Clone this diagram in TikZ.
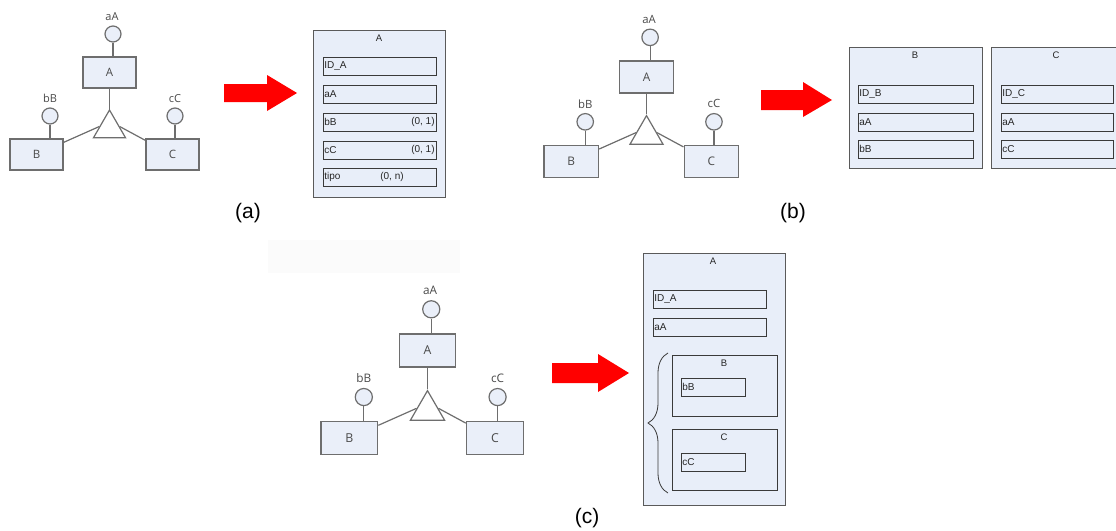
\documentclass[tikz,border=0pt]{standalone}
\usepackage{fontspec}
\setmainfont{Liberation Sans}
\newfontfamily\erfont{Open Sans}
\usetikzlibrary{shapes.geometric,calc,decorations.pathreplacing}

\definecolor{entfill}{HTML}{EAEFF9}
\definecolor{entline}{HTML}{6E6E6E}
\definecolor{erink}{HTML}{4A4A4A}
\definecolor{tblfill}{HTML}{E8EEF9}
\definecolor{tblline}{HTML}{5A5A5A}
\definecolor{fldline}{HTML}{3A3A3A}
\definecolor{arrowred}{HTML}{FF0000}

\tikzset{
  ent/.style={draw=entline, fill=entfill, line width=1.2pt, minimum width=53pt,
    minimum height=31pt, inner sep=0pt, font=\erfont\fontsize{11.5}{13}\selectfont, text=erink},
  attr/.style={circle, draw=entline, fill=entfill, line width=1.2pt, minimum size=16pt, inner sep=0pt},
  erlbl/.style={font=\erfont\fontsize{11}{13}\selectfont, text=erink, inner sep=0pt},
  isa/.style={regular polygon, regular polygon sides=3, draw=entline, fill=white,
    line width=1.2pt, minimum size=37pt, inner sep=0pt},
  erlink/.style={draw=entline, line width=1.2pt},
  tbl/.style={draw=tblline, fill=tblfill, line width=0.9pt, anchor=north west, inner sep=0pt},
  tbltitle/.style={font=\fontsize{9.5}{11}\selectfont, text=black!85, inner sep=0pt},
  fld/.style={draw=fldline, fill=tblfill, line width=0.8pt, minimum height=18pt, inner sep=1pt,
    align=left, anchor=north west, font=\fontsize{10}{12}\selectfont, text=black!85},
  card/.style={font=\fontsize{10}{12}\selectfont, text=black!85, inner sep=2pt, anchor=east},
  caption/.style={font=\fontsize{21}{25}\selectfont, inner sep=0pt},
  bigarrow/.style={fill=arrowred}
}

% ER diagram: entity A with specialisations B and C, each with one attribute
\newcommand{\erdiagram}[4]{%
  \begin{scope}[shift={(#2,#3)}, scale=#4, transform shape]
    \node[ent] (#1A) at (0,0) {A};
    \node[ent] (#1B) at (-73,82) {B};
    \node[ent] (#1C) at (63,82) {C};
    \node[attr] (#1aA) at (3.5,-38.5) {};
    \node[attr] (#1bB) at (-59.5,43.5) {};
    \node[attr] (#1cC) at (65.5,43.5) {};
    \node[erlbl] (#1laA) at (2.5,-56) {aA};
    \node[erlbl] (#1lbB) at (-59.5,26) {bB};
    \node[erlbl] (#1lcC) at (65.5,26) {cC};
    \node[isa] (#1T) at (0,56) {};
    \draw[erlink] (#1aA.south) -- (#1aA.south |- #1A.north);
    \draw[erlink] (#1bB.south) -- (#1bB.south |- #1B.north);
    \draw[erlink] (#1cC.south) -- (#1cC.south |- #1C.north);
    \draw[erlink] (#1A.south) -- (#1T.corner 1);
    \draw[erlink] ($(#1B.north east)+(0,4)$) -- ($(#1T.corner 1)!0.6!(#1T.corner 2)$);
    \draw[erlink] ($(#1C.north west)+(0,2)$) -- ($(#1T.corner 1)!0.6!(#1T.corner 3)$);
  \end{scope}}

\begin{document}
\begin{tikzpicture}[x=1pt, y=-1pt]
  \useasboundingbox (0,0) rectangle (1116,530);
  \fill[white] (0,0) rectangle (1116,530);
  \fill[black!1.5] (268,240) rectangle (460,273);

  % ---------- (a) single table ----------
  \erdiagram{a}{109.5}{72.5}{1.0}
  \fill[bigarrow] (224,84) -- (267,84) -- (267,75) -- (297,93) -- (267,111) -- (267,102) -- (224,102) -- cycle;

  \node[tbl, minimum width=132pt, minimum height=167pt] (tA) at (313,30) {};
  \node[tbltitle] (tAt) at (379,38) {A};
  \node[fld, text width=111pt] (aID) at (323,57) {ID\_A};
  \node[fld, text width=111pt] (aaA) at (323,85) {aA};
  \node[fld, text width=111pt] (abB) at (323,113) {bB};
  \node[fld, text width=111pt] (acC) at (323,141) {cC};
  \node[fld, text width=111pt] (atipo) at (323,168) {tipo};
  \node[card] (abBc) at (abB.east) {(0, 1)};
  \node[card] (acCc) at (acC.east) {(0, 1)};
  \node[card, anchor=center] (atipoc) at (392,177) {(0, n)};
  \node[caption] (capa) at (248,213) {(a)};

  % ---------- (b) one table per subclass ----------
  \erdiagram{b}{646.5}{77}{1.03}
  \fill[bigarrow] (761,90) -- (803,90) -- (803,82) -- (832,100) -- (803,117) -- (803,110) -- (761,110) -- cycle;

  \node[tbl, minimum width=133pt, minimum height=121pt] (tB) at (849,47) {};
  \node[tbltitle] (tBt) at (915,55) {B};
  \node[fld, text width=113pt] (bID) at (858,85) {ID\_B};
  \node[fld, text width=113pt] (baA) at (858,113) {aA};
  \node[fld, text width=113pt] (bbB) at (858,140) {bB};

  \node[tbl, minimum width=134pt, minimum height=121pt] (tC) at (991,47) {};
  \node[tbltitle] (tCt) at (1056,55) {C};
  \node[fld, text width=110pt] (cID) at (1001,85) {ID\_C};
  \node[fld, text width=110pt] (caA) at (1001,113) {aA};
  \node[fld, text width=110pt] (ccC) at (1001,140) {cC};
  \node[caption] (capb) at (793,213) {(b)};

  % ---------- (c) subclasses nested in the parent table ----------
  \erdiagram{c}{427.5}{350.5}{1.07}
  \fill[bigarrow] (552,363) -- (598,363) -- (598,354) -- (629,373) -- (598,392) -- (598,383) -- (552,383) -- cycle;

  \node[tbl, minimum width=142pt, minimum height=252pt] (tAc) at (643,253) {};
  \node[tbltitle] (tAct) at (713,261) {A};
  \node[fld, text width=111pt] (cIDA) at (653,290) {ID\_A};
  \node[fld, text width=111pt] (caAc) at (653,318) {aA};
  \node[tbl, draw=fldline, minimum width=105pt, minimum height=61pt] (nB) at (672,355) {};
  \node[tbltitle] (nBt) at (724,363) {B};
  \node[fld, text width=62pt] (nbB) at (681,378) {bB};
  \node[tbl, draw=fldline, minimum width=105pt, minimum height=61pt] (nC) at (672,429) {};
  \node[tbltitle] (nCt) at (724,437) {C};
  \node[fld, text width=62pt] (ncC) at (681,453) {cC};
  \draw[fldline, line width=0.8pt, decorate, decoration={brace, amplitude=20pt}]
    (668,493) -- (668,353);
  \node[caption] (capc) at (587,518) {(c)};
\end{tikzpicture}
\end{document}
